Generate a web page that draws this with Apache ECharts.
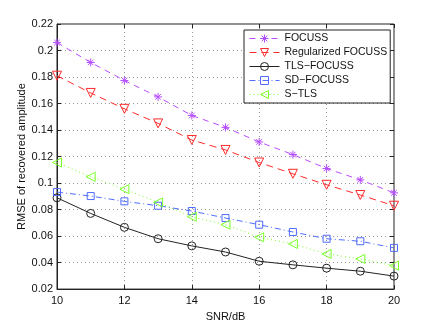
<!DOCTYPE html>
<html>
<head>
<meta charset="utf-8">
<script src="https://cdn.jsdelivr.net/npm/echarts@6/dist/echarts.min.js"></script>
<style>
html,body{margin:0;padding:0;background:#fff;}
#echarts{width:435px;height:327px;}
</style>
</head>
<body>
<div id="echarts"></div>
<script type="text/javascript">
	var snr = [10, 11, 12, 13, 14, 15, 16, 17, 18, 19, 20];
	var focuss = [0.206, 0.191, 0.1774, 0.165, 0.151, 0.142, 0.131, 0.1215, 0.111, 0.1024, 0.0926];
	var regFocuss = [0.181, 0.168, 0.156, 0.145, 0.1325, 0.125, 0.1155, 0.107, 0.0987, 0.091, 0.0829];
	var tlsFocuss = [0.0889, 0.0771, 0.0666, 0.058, 0.0526, 0.048, 0.041, 0.0383, 0.0358, 0.0335, 0.0298];
	var sdFocuss = [0.0932, 0.0902, 0.0862, 0.0829, 0.0789, 0.0736, 0.0686, 0.0631, 0.058, 0.0561, 0.0511];
	var sTls = [0.1155, 0.1047, 0.0954, 0.0854, 0.0746, 0.0686, 0.0591, 0.0541, 0.0465, 0.0428, 0.0377];
	var names = ['FOCUSS', 'Regularized FOCUSS', 'TLS\u2212FOCUSS', 'SD\u2212FOCUSS', 'S\u2212TLS'];

	function pairs(ys){
		return snr.map(function(x, i){ return [x, ys[i]]; });
	}
	var font = 'Liberation Sans, Arial, sans-serif';
	var asterisk = 'path://M0,5L10,5M5,0L5,10M1.5,1.5L8.5,8.5M8.5,1.5L1.5,8.5';

	function line(name, data, color, type, symbol, size, rotate){
		return {
			name: name,
			type: 'line',
			data: pairs(data),
			symbol: symbol,
			symbolSize: size,
			symbolRotate: rotate || 0,
			showAllSymbol: true,
			animation: false,
			lineStyle: {color: color, width: 1, type: type},
			itemStyle: {color: 'rgba(255,255,255,0)', borderColor: color, borderWidth: 1}
		};
	}

	var thechart = echarts.init(document.getElementById('echarts'));
	var theoption = {
		animation: false,
		textStyle: {fontFamily: font},
		grid: {left: 57, right: 41, top: 24, bottom: 37, show: true, borderColor: '#222', borderWidth: 1},
		legend: {
			orient: 'vertical',
			left: 244, top: 30,
			padding: [3, 3, 3, 5],
			itemGap: 3,
			itemWidth: 30,
			itemHeight: 10,
			backgroundColor: '#fff',
			borderColor: '#222',
			borderWidth: 1,
			borderRadius: 0,
			lineStyle: {width: 1},
			itemStyle: {borderWidth: 1},
			textStyle: {fontSize: 10.5, color: '#111', fontFamily: font},
			data: names
		},
		xAxis: [{
			type: 'value', min: 10, max: 20, interval: 2,
			name: 'SNR/dB', nameLocation: 'middle', nameGap: 15,
			nameTextStyle: {fontSize: 11, color: '#111'},
			axisLine: {lineStyle: {color: '#222'}},
			axisTick: {inside: true, length: 4, lineStyle: {color: '#222'}},
			axisLabel: {fontSize: 11, color: '#111', margin: 6},
			splitLine: {show: true, lineStyle: {color: '#999', type: [1, 3]}}
		}, {
			type: 'value', min: 10, max: 20, interval: 2, position: 'top',
			axisLine: {show: false},
			axisTick: {inside: true, length: 4, lineStyle: {color: '#222'}},
			axisLabel: {show: false}, splitLine: {show: false}
		}],
		yAxis: [{
			type: 'value', min: 0.02, max: 0.22, interval: 0.02,
			name: 'RMSE of recovered amplitude', nameLocation: 'middle', nameGap: 30,
			nameMoveOverlap: false,
			nameTextStyle: {fontSize: 11, color: '#111'},
			axisLine: {lineStyle: {color: '#222'}},
			axisTick: {inside: true, length: 4, lineStyle: {color: '#222'}},
			axisLabel: {fontSize: 11, color: '#111', margin: 4,
				formatter: function(v){ return String(+v.toFixed(2)); }},
			splitLine: {show: true, lineStyle: {color: '#999', type: [1, 3]}}
		}, {
			type: 'value', min: 0.02, max: 0.22, interval: 0.02, position: 'right',
			axisLine: {show: false},
			axisTick: {inside: true, length: 4, lineStyle: {color: '#222'}},
			axisLabel: {show: false}, splitLine: {show: false}
		}],
		series: [
			line(names[0], focuss, '#b84dff', [6, 5], asterisk, 8),
			line(names[1], regFocuss, '#ff2a2a', [7, 5], 'triangle', 9, 180),
			line(names[2], tlsFocuss, '#222222', 'solid', 'circle', 8),
			line(names[3], sdFocuss, '#4f6cff', [6, 3, 1, 3], 'rect', 7),
			line(names[4], sTls, '#7aff2a', [1, 3], 'triangle', 9, 90)
		]
	};
	thechart.setOption(theoption, true);
</script>
</body>
</html>
